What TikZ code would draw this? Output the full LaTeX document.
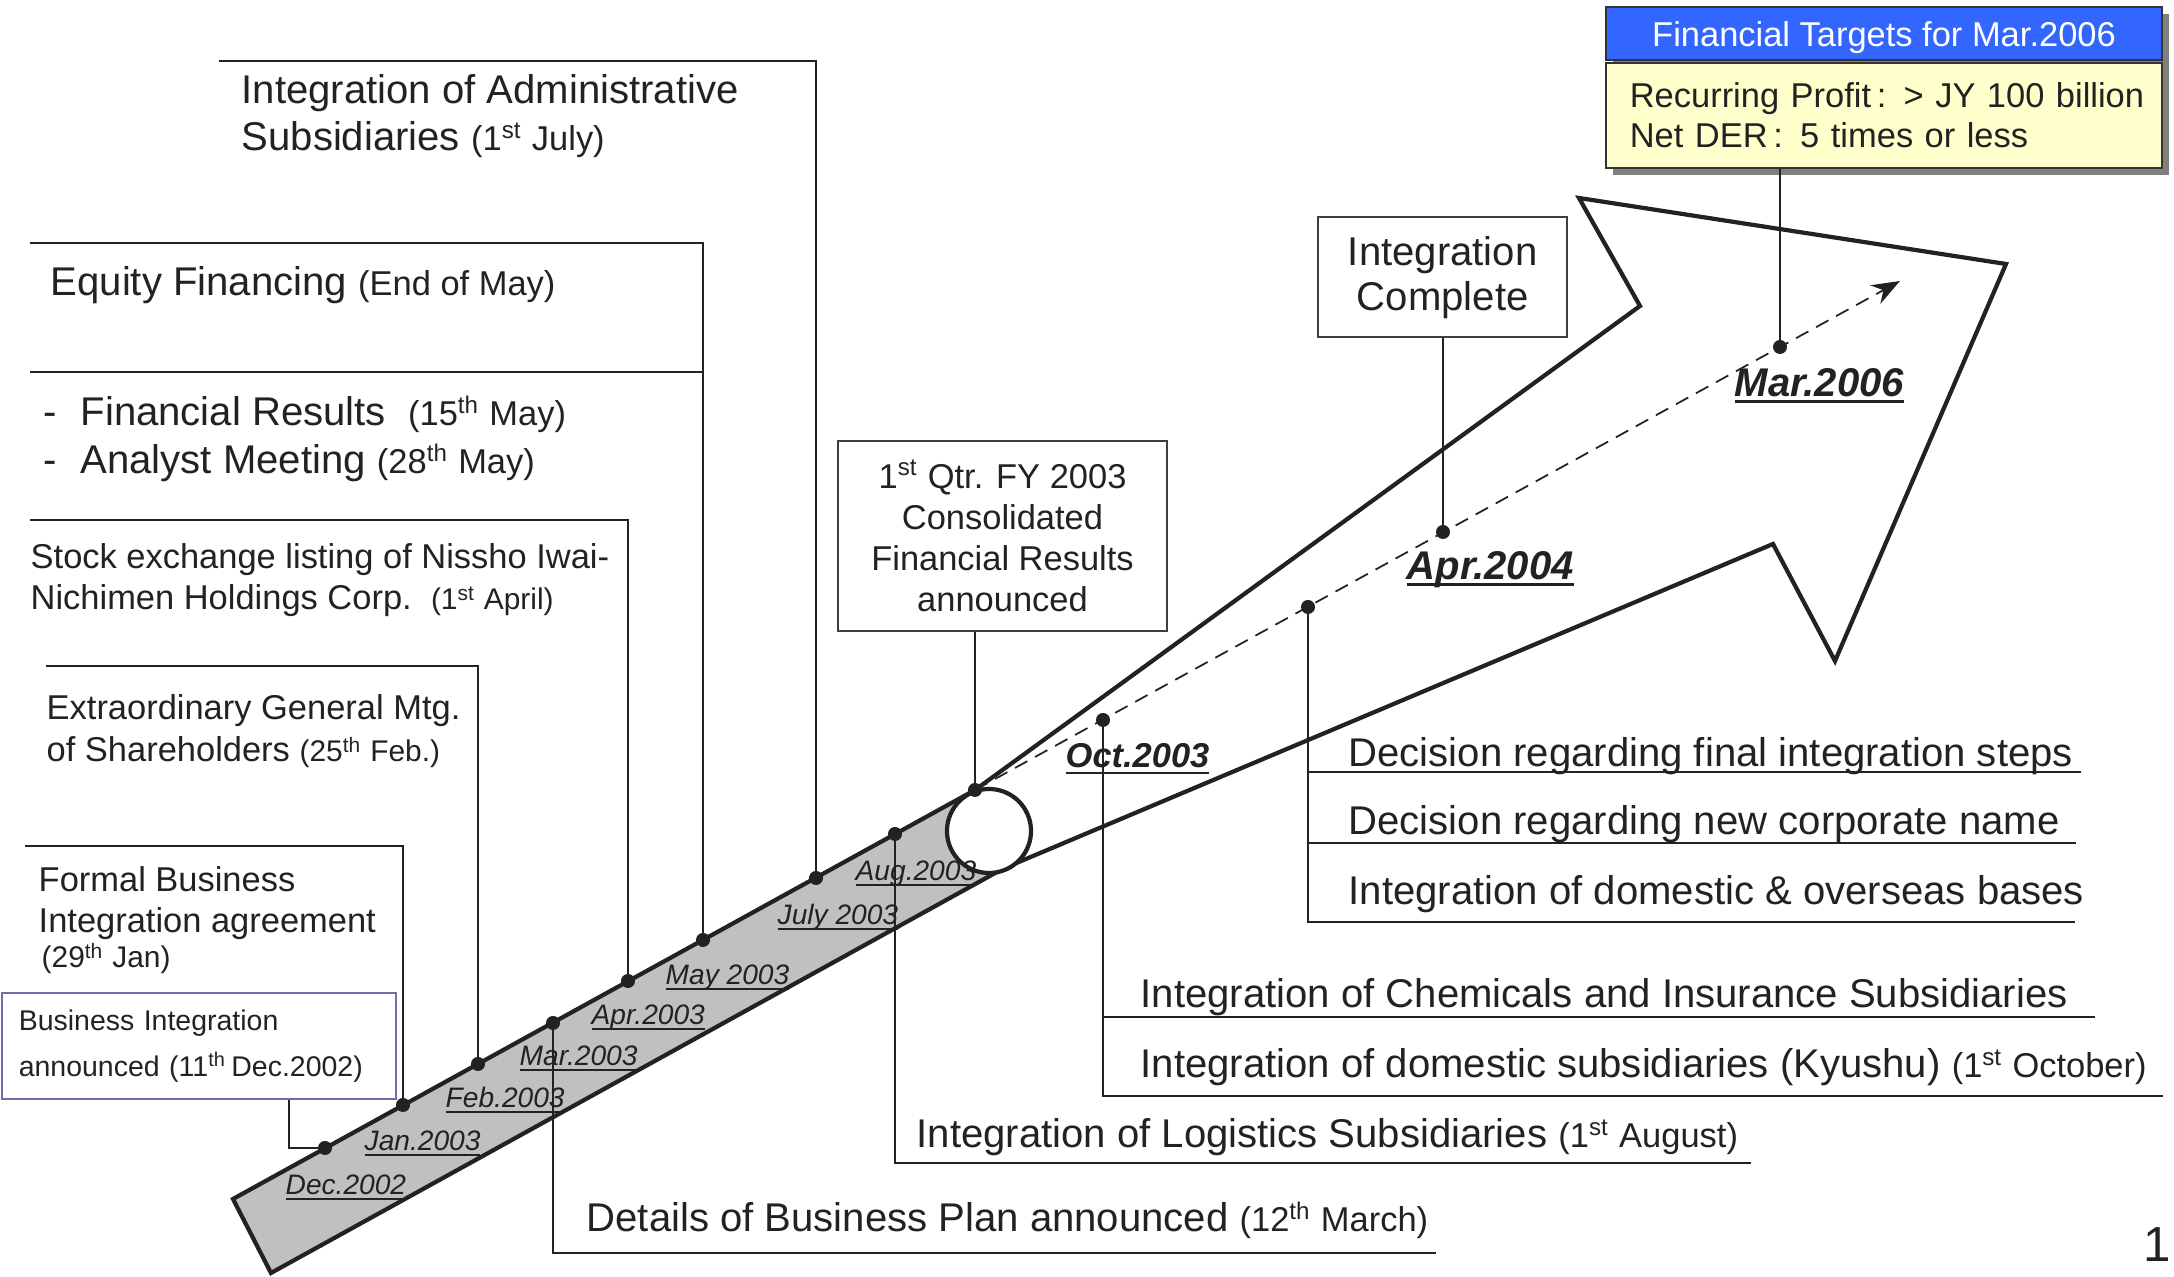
\documentclass[tikz,border=0pt]{standalone}
\usepackage{fontspec}
\setmainfont{Liberation Sans}
\usetikzlibrary{arrows.meta}
\definecolor{txtgray}{RGB}{34,34,34}
\definecolor{bandgray}{RGB}{192,192,192}
\definecolor{tgtblue}{RGB}{51,102,255}
\definecolor{tgtyellow}{RGB}{255,255,204}
\definecolor{shadowgray}{RGB}{128,128,128}
\definecolor{bizblue}{RGB}{110,110,170}
\def\pdate#1{{\fontsize{9.8}{11}\selectfont(#1)}}
\def\pdatesm#1{{\fontsize{8.5}{10}\selectfont(#1)}}
\newcommand\ulbar[3]{\setbox0=\hbox{#3}\rlap{\rule[-#1]{\wd0}{#2}}\box0}
\def\dotat(#1){\fill[txtgray] (#1) circle (0.07cm);}
\tikzset{
	bigtxt/.style={anchor=base west, inner sep=0pt, text=txtgray, font=\fontsize{11.4}{13.8}\selectfont},
	midtxt/.style={anchor=base west, inner sep=0pt, text=txtgray, font=\fontsize{9.8}{11.8}\selectfont},
	monthlbl/.style={anchor=base west, inner sep=0pt, text=txtgray, font=\fontsize{8}{9.6}\selectfont\itshape},
	keylbl/.style={anchor=base west, inner sep=0pt, text=txtgray, font=\fontsize{11.4}{13.8}\selectfont\bfseries\itshape},
	leadline/.style={draw=txtgray, line width=0.55pt},
	qbox/.style={draw=black!75, line width=0.6pt, align=center, text=txtgray, inner sep=0pt},
	arrowline/.style={draw=txtgray, line width=1.2pt},
}

\begin{document}
\begin{tikzpicture}[x=0.01cm, y=-0.01cm]
		%%%%% START %%%%%
		\useasboundingbox (0,0) rectangle (2174,1277);
		
		\coordinate (bandTL) at (233,1199);
		\coordinate (bandBL) at (271,1273);
		\coordinate (bandBR) at (997,872);
		\coordinate (arrowBL) at (1007,867);
		\coordinate (dec) at (325,1148);
		\coordinate (jan) at (403,1105);
		\coordinate (feb) at (478,1064);
		\coordinate (mar) at (553,1023);
		\coordinate (apr) at (628,981);
		\coordinate (may) at (703,940);
		\coordinate (jul) at (816,878);
		\coordinate (aug) at (895,834);
		\coordinate (qtr) at (975,790);
		\coordinate (oct) at (1103,720);
		\coordinate (fin) at (1308,607);
		\coordinate (apr04) at (1443,532);
		\coordinate (mar06) at (1780,347);
		\coordinate (aimEnd) at (1900,281);
		
		\fill[bandgray] (bandTL) -- (qtr) -- (bandBR) -- (bandBL) -- cycle;
		\draw[arrowline] (bandBR) -- (bandBL) -- (bandTL) -- (qtr) -- (1640,306) -- (1579,198) -- (2006,264) -- (1835,661) -- (1773,544) -- (arrowBL);
		\draw[arrowline, fill=white] (989,831) circle (0.42cm);
		\draw[txtgray, line width=0.5pt, dash pattern=on 4pt off 2.5pt, -{Stealth[length=8pt,width=6pt]}] (qtr) -- (aimEnd);
		
		\fill[shadowgray] (1613,14) rectangle (2169,175);
		\node[draw=black!80, line width=0.6pt, fill=tgtblue, text=white, font=\fontsize{9.8}{11.7}\selectfont, minimum width=5.56cm, minimum height=0.53cm, inner sep=0pt, text height=7.5pt, text depth=0pt] (tgthead) at (1884,33.5) {Financial Targets for Mar.2006};
		\node[draw=black!80, line width=0.6pt, fill=tgtyellow, text=txtgray, font=\fontsize{9.8}{11.4}\selectfont, minimum width=5.56cm, minimum height=1.05cm, text width=5.08cm, inner xsep=0.24cm, inner ysep=0pt, align=left] (tgtbody) at (1884,115.5) {\mbox{Recurring Profit\,:\enspace> JY 100 billion}\\\mbox{Net DER\,:\enspace5 times or less}};
		
		\node[qbox, font=\fontsize{11.4}{12.8}\selectfont, minimum width=2.49cm, minimum height=1.2cm] (icbox) at (1442.7,277.3) {Integration\\Complete};
		\node[qbox, font=\fontsize{9.8}{11.7}\selectfont, minimum width=3.28cm, minimum height=1.9cm] (qtrbox) at (1002.5,536) {1\textsuperscript{st} Qtr. FY 2003\\Consolidated\\Financial Results\\announced};
		\node[draw=bizblue, line width=0.6pt, anchor=north west, minimum width=3.93cm, minimum height=1.06cm, text width=3.6cm, inner xsep=0.167cm, align=left, text=txtgray, font=\fontsize{8.1}{13.3}\selectfont] (bizbox) at (1,992) {Business Integration\\announced\ (11\textsuperscript{th}\,Dec.2002)};
		
		\coordinate (adminL) at (219,61);
		\coordinate (eqL) at (30,243);
		\coordinate (eqMid) at (30,372);
		\coordinate (stL) at (30,520);
		\coordinate (egmL) at (46,666);
		\coordinate (fmL) at (25,846);
		\coordinate (detR) at (1436,1253);
		\coordinate (logR) at (1751,1163);
		\coordinate (kyuR) at (2163,1096);
		\coordinate (chemR) at (2095,1017);
		\coordinate (basR) at (2075,922);
		\coordinate (nameR) at (2076,843);
		\coordinate (stepR) at (2081,772);
		
		\draw[leadline] (adminL) -| (jul);
		\draw[leadline] (eqL) -| (may);
		\draw[leadline] (eqMid) -- (eqMid -| may);
		\draw[leadline] (stL) -| (apr);
		\draw[leadline] (egmL) -| (feb);
		\draw[leadline] (fmL) -| (jan);
		\draw[leadline] ([xshift=2.88cm]bizbox.south west) |- (dec);
		\draw[leadline] (mar) |- (detR);
		\draw[leadline] (aug) |- (logR);
		\draw[leadline] (oct) |- (kyuR);
		\draw[leadline] (oct |- chemR) -- (chemR);
		\draw[leadline] (fin) |- (basR);
		\draw[leadline] (fin |- nameR) -- (nameR);
		\draw[leadline] (fin |- stepR) -- (stepR);
		\draw[leadline] (qtrbox.south -| qtr) -- (qtr);
		\draw[leadline] (icbox.south -| apr04) -- (apr04);
		\draw[leadline] (tgtbody.south -| mar06) -- (mar06);
		
		\dotat(dec) \dotat(jan) \dotat(feb) \dotat(mar) \dotat(apr) \dotat(may) \dotat(jul) \dotat(aug) \dotat(qtr)
		\dotat(oct) \dotat(fin) \dotat(apr04) \dotat(mar06)
		
		\node[bigtxt] (admin1) at (241,104) {Integration of Administrative};
		\node[bigtxt] (admin2) at (241,151) {Subsidiaries \pdate{1\textsuperscript{st} July}};
		\node[bigtxt] (equity) at (50,296) {Equity Financing \pdate{End of May}};
		\node[bigtxt] (results) at (43,426) {\makebox[10.5pt][l]{-}Financial Results\ \ \pdate{15\textsuperscript{th} May}};
		\node[bigtxt] (analyst) at (43,474) {\makebox[10.5pt][l]{-}Analyst Meeting \pdate{28\textsuperscript{th} May}};
		\node[midtxt] (stock1) at (30,569) {Stock exchange listing of Nissho Iwai-};
		\node[midtxt] (stock2) at (30,610) {Nichimen Holdings Corp.\ \ \pdatesm{1\textsuperscript{st} April}};
		\node[midtxt] (egm1) at (46,720) {Extraordinary General Mtg.};
		\node[midtxt] (egm2) at (46,762) {of Shareholders \pdatesm{25\textsuperscript{th} Feb.}};
		\node[midtxt] (formal1) at (38,892) {Formal Business};
		\node[midtxt] (formal2) at (38,933) {Integration agreement};
		\node[midtxt] (formal3) at (41,968) {\pdatesm{29\textsuperscript{th} Jan}};
		
		\node[bigtxt] (steps) at (1348,767) {Decision regarding final integration steps};
		\node[bigtxt] (newname) at (1348,835) {Decision regarding new corporate name};
		\node[bigtxt] (bases) at (1348,905) {Integration of domestic \& overseas bases};
		\node[bigtxt] (chem) at (1140,1008) {Integration of Chemicals and Insurance Subsidiaries};
		\node[bigtxt] (kyushu) at (1140,1078) {Integration of domestic subsidiaries (Kyushu) \pdate{1\textsuperscript{st} October}};
		\node[bigtxt] (logist) at (916,1148) {Integration of Logistics Subsidiaries \pdate{1\textsuperscript{st} August}};
		\node[bigtxt] (details) at (586,1232) {Details of Business Plan announced \pdate{12\textsuperscript{th} March}};
		
		\node[monthlbl] (decLbl) at (285,1195) {\ulbar{1.3pt}{0.45pt}{Dec.2002}};
		\node[monthlbl] (janLbl) at (364,1151) {\ulbar{1.3pt}{0.45pt}{Jan.2003}};
		\node[monthlbl] (febLbl) at (445,1108) {\ulbar{1.3pt}{0.45pt}{Feb.2003}};
		\node[monthlbl] (marLbl) at (519,1066) {\ulbar{1.3pt}{0.45pt}{Mar.2003}};
		\node[monthlbl] (aprLbl) at (591,1025) {\ulbar{1.3pt}{0.45pt}{Apr.2003}};
		\node[monthlbl] (mayLbl) at (665,985) {\ulbar{1.3pt}{0.45pt}{May 2003}};
		\node[monthlbl] (julLbl) at (777,925) {\ulbar{1.3pt}{0.45pt}{July 2003}};
		\node[monthlbl] (augLbl) at (855,881) {\ulbar{1.3pt}{0.45pt}{Aug.2003}};
		
		\node[keylbl, font=\fontsize{9.8}{11}\selectfont\bfseries\itshape] (octLbl) at (1065,768) {\ulbar{1.8pt}{0.8pt}{Oct.2003}};
		\node[keylbl] (apr04Lbl) at (1406,580) {\ulbar{1.8pt}{0.9pt}{Apr.2004}};
		\node[keylbl] (mar06Lbl) at (1734,397) {\ulbar{1.8pt}{0.9pt}{Mar.2006}};
		
		\node[anchor=base west, inner sep=0pt, text=txtgray, font=\fontsize{14}{16}\selectfont] (pagenum) at (2143,1262) {1};
		
		%%%%% END %%%%%
	\end{tikzpicture}
\end{document}
